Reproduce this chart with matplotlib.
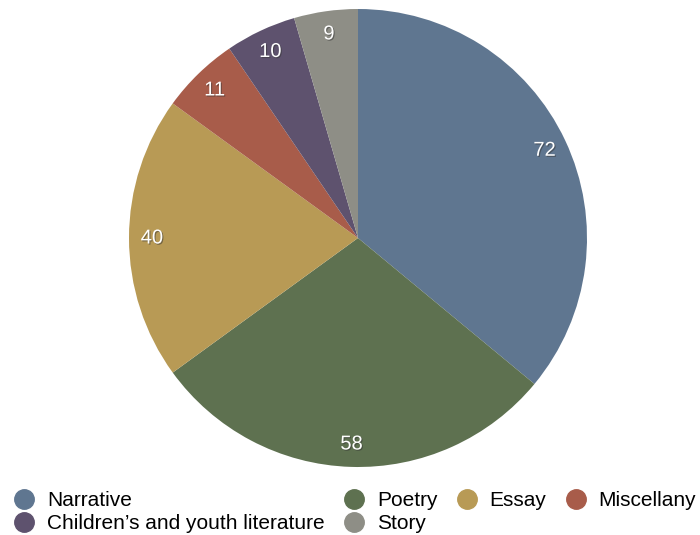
import matplotlib
matplotlib.use("Agg")
import matplotlib.pyplot as plt
import matplotlib.patheffects as pe
from matplotlib.lines import Line2D
import numpy as np

categories = ["Narrative", "Poetry", "Essay", "Miscellany", "Children\u2019s and youth literature", "Story"]
values = [72, 58, 40, 11, 10, 9]
colors = ["#5f7690", "#5e7150", "#b89a55", "#a85c4a", "#5e526e", "#8e8e86"]

W, H = 700, 535
fig = plt.figure(figsize=(W / 100, H / 100), dpi=100)
cx, cy, r = 358, 238, 229
ax = fig.add_axes([(cx - r) / W, (H - cy - r) / H, 2 * r / W, 2 * r / H])

wedges, _ = ax.pie(values, colors=colors, startangle=90, counterclock=False,
                   radius=1.0, wedgeprops=dict(linewidth=0))
for v, w in zip(values, wedges):
    mid = np.deg2rad((w.theta1 + w.theta2) / 2)
    d = 0.9
    ax.text(d * np.cos(mid), d * np.sin(mid), str(v), ha="center", va="center",
            color="white", fontsize=14.5, family="Liberation Sans",
            path_effects=[pe.withSimplePatchShadow(offset=(0.8, -0.8), shadow_rgbFace="#333333", alpha=0.5)])
ax.set_xlim(-1, 1)
ax.set_ylim(-1, 1)
ax.set_aspect("equal")
ax.axis("off")

order = [0, 4, 1, 5, 2, 3]
handles = [Line2D([], [], marker="o", linestyle="none", markersize=14,
                  markerfacecolor=colors[i], markeredgecolor=colors[i]) for i in order]
labels = [categories[i] for i in order]
fig.legend(handles, labels, ncol=4, loc="lower left", bbox_to_anchor=(14 / W, 2 / H),
           frameon=False, prop=dict(family="Liberation Sans", size=15),
           handletextpad=0.6, columnspacing=0.9, labelspacing=0.2, handlelength=1.0,
           borderaxespad=0.0, borderpad=0.0)

fig.savefig("out.png", dpi=100)
